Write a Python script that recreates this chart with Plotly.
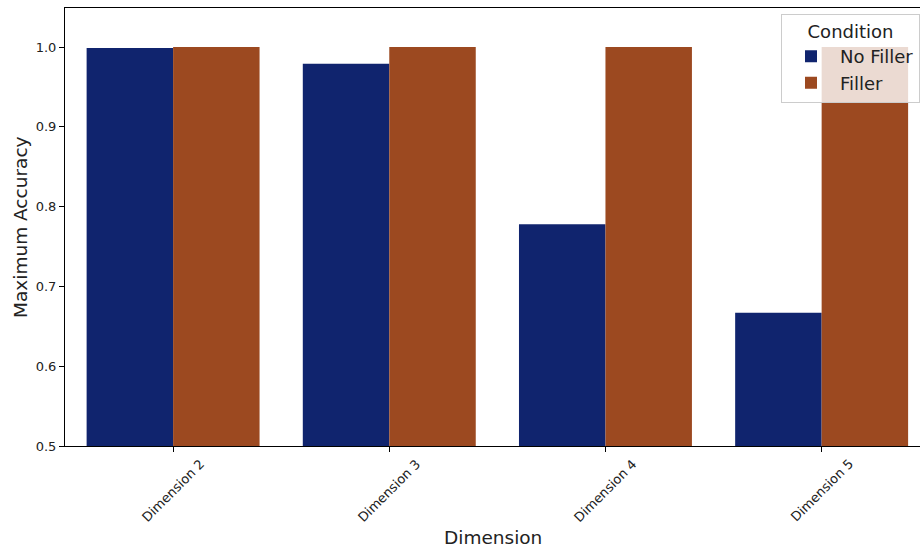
import plotly.graph_objects as go

categories = ["Dimension 2", "Dimension 3", "Dimension 4", "Dimension 5"]
no_filler = [0.999, 0.979, 0.778, 0.667]
filler = [1.0, 1.0, 1.0, 1.0]
y_ticks = [0.5, 0.6, 0.7, 0.8, 0.9, 1.0]

FONT = "DejaVu Sans"
fig = go.Figure()
fig.add_trace(go.Bar(x=categories, y=no_filler, name="No Filler",
                     marker=dict(color="#10246e", line=dict(width=0))))
fig.add_trace(go.Bar(x=categories, y=filler, name="Filler",
                     marker=dict(color="#9c4920", line=dict(width=0))))

for c in categories:
    fig.add_annotation(x=c, y=0, xref="x", yref="paper", text=c, showarrow=False,
                       textangle=-45, xanchor="center", yanchor="top", yshift=-7,
                       font=dict(family=FONT, size=13, color="#222"))

fig.add_annotation(x=0.5, y=0, xref="paper", yref="paper", text="Dimension", showarrow=False,
                   xanchor="center", yanchor="middle", yshift=-91,
                   font=dict(family=FONT, size=18.5, color="#222"))
fig.add_annotation(x=0, y=0.5, xref="paper", yref="paper", text="Maximum Accuracy", showarrow=False,
                   textangle=-90, xanchor="center", yanchor="middle", xshift=-45,
                   font=dict(family=FONT, size=18.5, color="#222"))

fig.update_layout(
    width=920, height=548,
    margin=dict(l=65, r=0, t=8, b=102, autoexpand=False),
    paper_bgcolor="white", plot_bgcolor="white",
    barmode="group", bargap=0.2, bargroupgap=0,
    font=dict(family=FONT, color="#222"),
    showlegend=True,
    legend=dict(
        x=1.0, y=0.987, xanchor="right", yanchor="top",
        bgcolor="rgba(255,255,255,0.8)", bordercolor="#cccccc", borderwidth=1,
        font=dict(family=FONT, size=18, color="#222"),
        title=dict(text="Condition", side="top center", font=dict(family=FONT, size=18, color="#222")),
        itemsizing="constant", itemwidth=48, tracegroupgap=5,
    ),
    xaxis=dict(
        range=[-0.5, 3.455], showgrid=False, showline=True, linecolor="black", linewidth=1,
        mirror=True, ticks="outside", ticklen=5, tickcolor="black", showticklabels=False,
        automargin=False,
    ),
    yaxis=dict(
        range=[0.5, 1.049], showgrid=False, showline=True, linecolor="black", linewidth=1,
        mirror=False, ticks="outside", ticklen=5, tickcolor="black",
        tickvals=y_ticks, ticktext=[f"{v:.1f}" for v in y_ticks],
        tickfont=dict(family=FONT, size=13, color="#222"), zeroline=False, automargin=False,
    ),
)
fig.write_html("out.html", config={"displayModeBar": False},
               post_script="document.body.style.margin='0';document.body.style.overflow='hidden';")
